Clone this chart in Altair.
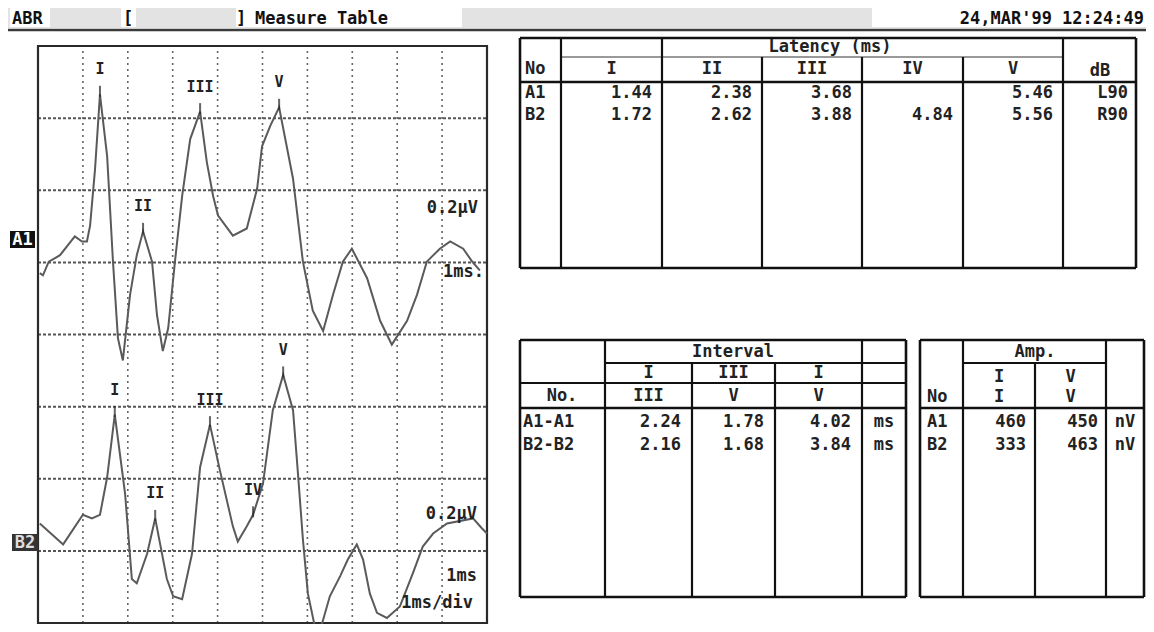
import altair as alt
import pandas as pd

# ---------------- waveform data (time in ms, amplitude in 0.2 uV divisions) ----------------
a1_time = [0.04, 0.11, 0.24, 0.38, 0.49, 0.82, 0.98, 1.09, 1.16, 1.27,
           1.38, 1.54, 1.67, 1.78, 1.89, 2.05, 2.20, 2.34, 2.54, 2.65,
           2.78, 2.90, 3.05, 3.21, 3.39, 3.61, 3.76, 3.90, 4.01, 4.34,
           4.65, 4.88, 4.99, 5.17, 5.37, 5.68, 5.90, 6.12, 6.35, 6.57,
           6.79, 6.99, 7.33, 7.62, 7.88, 8.22, 8.44, 8.66, 8.95, 9.18,
           9.47, 9.67, 9.84]
a1_amp = [4.85, 4.82, 5.01, 5.06, 5.10, 5.36, 5.29, 5.29, 5.51, 6.29,
          7.33, 6.47, 5.01, 3.95, 3.64, 4.55, 5.10, 5.43, 5.01, 4.27,
          3.77, 4.09, 5.01, 5.92, 6.71, 7.09, 6.39, 5.92, 5.65, 5.37,
          5.47, 6.02, 6.61, 6.89, 7.15, 6.16, 5.01, 4.33, 4.05, 4.55,
          5.01, 5.19, 4.78, 4.19, 3.86, 4.19, 4.55, 5.01, 5.19, 5.29,
          5.19, 5.01, 4.89]
b2_time = [0.04, 0.56, 1.00, 1.20, 1.38, 1.54, 1.71, 1.94, 2.09, 2.20,
           2.43, 2.61, 2.87, 3.01, 3.21, 3.43, 3.61, 3.83, 4.05, 4.34,
           4.45, 4.65, 4.79, 5.01, 5.23, 5.46, 5.68, 5.79, 5.90, 6.01,
           6.21, 6.33, 6.50, 6.73, 6.90, 7.10, 7.24, 7.39, 7.55, 7.77,
           8.06, 8.35, 8.57, 8.80, 9.11, 9.69, 9.89, 10.0]
b2_amp = [1.38, 1.09, 1.50, 1.45, 1.50, 2.02, 2.89, 1.79, 0.61, 0.55,
          0.96, 1.45, 0.61, 0.37, 0.33, 0.96, 2.16, 2.75, 2.12, 1.34,
          1.13, 1.34, 1.50, 1.93, 2.95, 3.44, 2.95, 2.07, 1.16, 0.41,
          -0.18, 0.00, 0.37, 0.65, 0.88, 1.09, 0.88, 0.41, 0.14, 0.07,
          0.23, 0.69, 1.06, 1.24, 1.38, 1.45, 1.31, 1.24]

a1_peak_label = ["I", "II", "III", "V"]
a1_peak_time = [1.38, 2.34, 3.61, 5.37]
a1_peak_amp = [7.33, 5.43, 7.09, 7.15]
b2_peak_label = ["I", "II", "III", "IV", "V"]
b2_peak_time = [1.71, 2.61, 3.83, 4.79, 5.46]
b2_peak_amp = [2.89, 1.45, 2.75, 1.50, 3.44]

time_ticks = [1, 2, 3, 4, 5, 6, 7, 8, 9]
amp_ticks = [1, 2, 3, 4, 5, 6, 7]

# ---------------- table data ----------------
lat_heads = ["I", "II", "III", "IV", "V"]
lat_rows = ["A1", "B2"]
lat_I = [1.44, 1.72]
lat_II = [2.38, 2.62]
lat_III = [3.68, 3.88]
lat_IV = [None, 4.84]
lat_V = [5.46, 5.56]
lat_dB = ["L90", "R90"]

int_top = ["I", "III", "I"]
int_bot = ["III", "V", "V"]
int_rows = ["A1-A1", "B2-B2"]
int_I_III = [2.24, 2.16]
int_III_V = [1.78, 1.68]
int_I_V = [4.02, 3.84]

amp_top = ["I", "V"]
amp_rows = ["A1", "B2"]
amp_I = [460, 333]
amp_V = [450, 463]

# ---------------- layout ----------------
W, H = 1138, 616
FONT = "DejaVu Sans Mono"
CX = alt.Scale(domain=[8, 8 + W], range=[0, W])
CY = alt.Scale(domain=[8, 8 + H], range=[0, H])
WX = alt.Scale(domain=[0, 10], range=[30, 479])
WY = alt.Scale(domain=[0, 8], range=[615, 38])


def cx(f):
    return alt.X(f"{f}:Q", scale=CX, axis=None)


def cy(f):
    return alt.Y(f"{f}:Q", scale=CY, axis=None)


def wx(f):
    return alt.X(f"{f}:Q", scale=WX, axis=None)


def wy(f):
    return alt.Y(f"{f}:Q", scale=WY, axis=None)


# ---------------- waveform panel ----------------
vgrid = alt.Chart(pd.DataFrame({"t": time_ticks, "y0": 0, "y1": 8})).mark_rule(
    color="#666", strokeWidth=1.6, strokeDash=[2, 4]
).encode(x=wx("t"), y=wy("y0"), y2="y1")

hgrid = alt.Chart(pd.DataFrame({"a": amp_ticks, "x0": 0, "x1": 10})).mark_rule(
    color="#555", strokeWidth=2, strokeDash=[3, 2]
).encode(y=wy("a"), x=wx("x0"), x2="x1")

frame = alt.Chart(pd.DataFrame({"x0": [0], "x1": [10], "y0": [0], "y1": [8]})).mark_rect(
    filled=False, stroke="#2a2a2a", strokeWidth=2.2
).encode(x=wx("x0"), x2="x1", y=wy("y0"), y2="y1")

wave_df = pd.concat([
    pd.DataFrame({"trace": "A1", "t": a1_time, "amp": a1_amp, "i": range(len(a1_time))}),
    pd.DataFrame({"trace": "B2", "t": b2_time, "amp": b2_amp, "i": range(len(b2_time))}),
])
lines = alt.Chart(wave_df).mark_line(color="#5a5a5a", strokeWidth=2, clip=True).encode(
    x=wx("t"), y=wy("amp"), detail="trace:N", order="i:Q"
)

peaks_df = pd.concat([
    pd.DataFrame({"lab": a1_peak_label, "t": a1_peak_time, "amp": a1_peak_amp}),
    pd.DataFrame({"lab": b2_peak_label, "t": b2_peak_time, "amp": b2_peak_amp}),
])
peak_ticks = alt.Chart(peaks_df).mark_tick(
    orient="vertical", size=11, thickness=2, color="#222", yOffset=-3
).encode(x=wx("t"), y=wy("amp"))
peak_text = alt.Chart(peaks_df).mark_text(
    font=FONT, fontSize=15, fontWeight="bold", color="#222", dy=-25, baseline="middle"
).encode(x=wx("t"), y=wy("amp"), text="lab:N")

wave = alt.layer(vgrid, hgrid, frame, lines, peak_ticks, peak_text)

# ---------------- header / tags ----------------
rects = [
    {"x": 8, "x2": 1146, "y": 8, "y2": 28, "c": "#e3e3e3"},
    {"x": 10, "x2": 50, "y": 8, "y2": 27, "c": "#ffffff"},
    {"x": 121, "x2": 136, "y": 8, "y2": 27, "c": "#ffffff"},
    {"x": 236, "x2": 462, "y": 8, "y2": 27, "c": "#ffffff"},
    {"x": 872, "x2": 1146, "y": 8, "y2": 27, "c": "#ffffff"},
    {"x": 10, "x2": 35, "y": 231, "y2": 248, "c": "#111111"},
    {"x": 12, "x2": 38, "y": 534, "y2": 551, "c": "#333333"},
]
rect_layer = alt.Chart(pd.DataFrame(rects)).mark_rect().encode(
    x=cx("x"), x2="x2", y=cy("y"), y2="y2", color=alt.Color("c:N", scale=None)
)

# ---------------- table lines ----------------
K, G = "#111111", "#777777"
rules = []


def hl(x0, x1, y, w=2.2, c=K):
    rules.append({"x": x0, "x2": x1, "y": y, "y2": y, "w": w, "c": c})


def vl(x, y0, y1, w=2.2, c=K):
    rules.append({"x": x, "x2": x, "y": y0, "y2": y1, "w": w, "c": c})


hl(8, 1146, 30, 2.5, "#3a3a3a")

lat_cols = [520, 561, 662, 762, 862, 963, 1063, 1136]
hl(520, 1136, 38, 2.6)
hl(520, 1136, 268, 2.6)
hl(561, 1063, 57, 1.6, G)
hl(520, 1136, 82, 2.6)
for xx in lat_cols:
    top = 57 if xx in (762, 862, 963) else 38
    vl(xx, top, 268, 2.6 if xx in (520, 1136) else 2.2)

int_cols = [520, 605, 692, 775, 862, 906]
hl(520, 906, 340, 2.6)
hl(520, 906, 597, 2.6)
hl(605, 906, 363, 1.8)
hl(520, 906, 383, 1.8)
hl(520, 906, 408, 2.6)
for xx in int_cols:
    top = 363 if xx in (692, 775) else 340
    vl(xx, top, 597, 2.6 if xx in (520, 906) else 2.2)

amp_cols = [920, 963, 1035, 1106, 1144]
hl(920, 1144, 340, 2.6)
hl(920, 1144, 597, 2.6)
hl(963, 1106, 363, 1.8)
hl(920, 1144, 408, 2.6)
for xx in amp_cols:
    top = 363 if xx == 1035 else 340
    vl(xx, top, 597, 2.6 if xx in (920, 1144) else 2.2)

rule_layer = alt.Chart(pd.DataFrame(rules)).mark_rule().encode(
    x=cx("x"), x2="x2", y=cy("y"), y2="y2",
    strokeWidth=alt.StrokeWidth("w:Q", scale=None),
    color=alt.Color("c:N", scale=None),
)

# ---------------- texts ----------------
tl, tc, tr = [], [], []
# header
tl.append((12, 19, "ABR", "#111"))
tc.append((128, 19, "[", "#111"))
tc.append((241, 19, "]", "#111"))
tl.append((255, 19, "Measure Table", "#111"))
tr.append((1144, 19, "24,MAR'99 12:24:49", "#111"))

# latency table
tc.append((830, 47, "Latency (ms)", "#222"))
for i, name in enumerate(lat_heads):
    tc.append(((lat_cols[i + 1] + lat_cols[i + 2]) / 2, 69, name, "#222"))
tl.append((525, 69, "No", "#222"))
tc.append((1100, 71, "dB", "#222"))
lat_row_y = [93, 115]
for r, row in enumerate(lat_rows):
    y = lat_row_y[r]
    tl.append((525, y, row, "#222"))
    for c, vals in enumerate([lat_I, lat_II, lat_III, lat_IV, lat_V]):
        v = vals[r]
        if v is not None:
            tr.append((lat_cols[c + 2] - 10, y, f"{v:.2f}", "#222"))
    tr.append((1128, y, lat_dB[r], "#222"))

# interval table
tc.append((733, 352, "Interval", "#222"))
for i in range(3):
    cxm = (int_cols[i + 1] + int_cols[i + 2]) / 2
    tc.append((cxm, 373, int_top[i], "#222"))
    tc.append((cxm, 396, int_bot[i], "#222"))
tc.append((562, 396, "No.", "#222"))
int_row_y = [422, 445]
for r, row in enumerate(int_rows):
    y = int_row_y[r]
    tl.append((523, y, row, "#222"))
    for c, vals in enumerate([int_I_III, int_III_V, int_I_V]):
        tr.append((int_cols[c + 2] - 11, y, f"{vals[r]:.2f}", "#222"))
    tc.append((884, y, "ms", "#222"))

# amp table
tc.append((1035, 352, "Amp.", "#222"))
for i in range(2):
    cxm = (amp_cols[i + 1] + amp_cols[i + 2]) / 2
    tc.append((cxm, 377, amp_top[i], "#222"))
    tc.append((cxm, 397, amp_top[i], "#222"))
tl.append((927, 397, "No", "#222"))
for r, row in enumerate(amp_rows):
    y = int_row_y[r]
    tl.append((927, y, row, "#222"))
    tr.append((amp_cols[2] - 9, y, str(amp_I[r]), "#222"))
    tr.append((amp_cols[3] - 8, y, str(amp_V[r]), "#222"))
    tc.append((1125, y, "nV", "#222"))

# waveform annotations
tr.append((478, 208, "0.2µV", "#222"))
tr.append((484, 272, "1ms.", "#222"))
tr.append((477, 514, "0.2µV", "#222"))
tr.append((477, 576, "1ms", "#222"))
tr.append((473, 603, "1ms/div", "#222"))
tc.append((22.5, 240, "A1", "#ffffff"))
tc.append((25, 543, "B2", "#dddddd"))


def text_layer(items, align):
    df = pd.DataFrame(items, columns=["x", "y", "t", "c"])
    return alt.Chart(df).mark_text(
        align=align, baseline="middle", font=FONT, fontSize=17, fontWeight="bold"
    ).encode(x=cx("x"), y=cy("y"), text="t:N", color=alt.Color("c:N", scale=None))


canvas = alt.layer(
    rect_layer, rule_layer,
    text_layer(tl, "left"), text_layer(tc, "center"), text_layer(tr, "right"),
)

chart = alt.layer(wave, canvas).resolve_scale(
    x="independent", y="independent"
).properties(
    width=W, height=H, autosize=alt.AutoSizeParams(type="none"), padding=0, background="white"
).configure_view(stroke=None)

chart.save("out.html", embed_options={"renderer": "svg", "actions": False})
